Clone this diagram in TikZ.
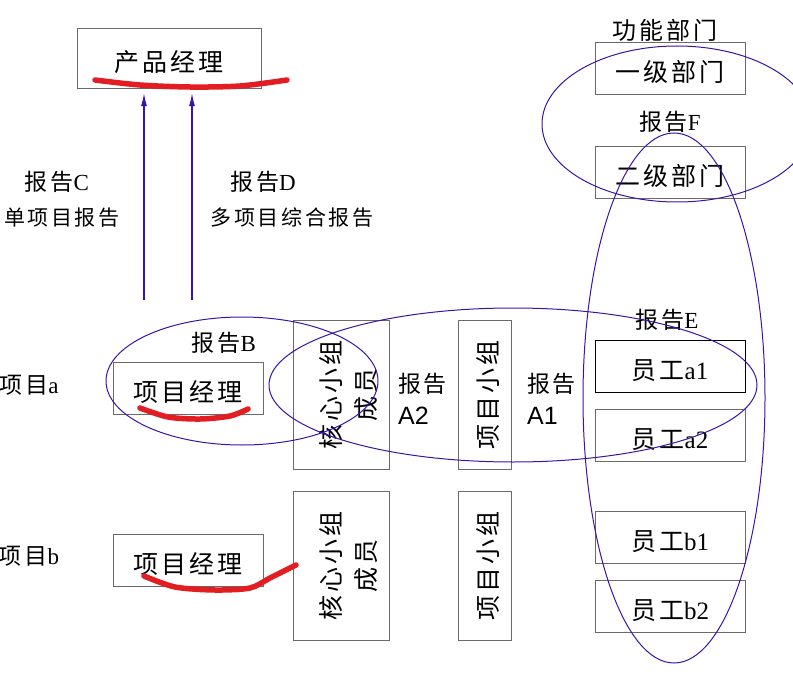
\documentclass[tikz,border=0pt]{standalone}
\usepackage{fontspec}
\setmainfont{Noto Sans CJK SC}[LetterSpace=12]
\newfontfamily\latserif{Liberation Serif}
\newfontfamily\latsans{Liberation Sans}
\usetikzlibrary{arrows.meta,positioning}
\definecolor{rpblue}{HTML}{3A14A8}
\definecolor{rpred}{HTML}{E21E22}
\definecolor{rpgray}{HTML}{6A6A6A}
\newcommand{\rmlat}[1]{{\latserif #1}}

\begin{document}
\begin{tikzpicture}[x=1pt,y=-1pt,
   box/.style={draw=rpgray,minimum width=150pt,minimum height=52pt,
               inner sep=0pt,text height=27pt,text depth=0pt,
               font=\fontsize{25}{30}\selectfont},
   vbox/.style={draw=rpgray,rotate=90,minimum width=149pt,inner sep=0pt,
                align=center,font=\fontsize{25}{35}\selectfont},
   twoline/.style={text height=68pt,text depth=0pt},
   oneline/.style={text height=25pt,text depth=0pt},
   lab/.style={inner sep=0pt,font=\fontsize{23}{32}\selectfont},
   sublab/.style={inner sep=0pt,font=\fontsize{21}{26}\selectfont},
   ar/.style={-{Latex[length=13pt,width=6pt]},rpblue,line width=1.1pt,shorten >=5pt},
   ring/.style={rpblue,line width=1pt},
   redmark/.style={rpred,line width=5.5pt,line cap=round}]
  \useasboundingbox (0,0) rectangle (793,682);
  % top: product manager
  \node[box,minimum width=184pt,minimum height=60pt] (pm) at (169,58) {产品经理};
  \node[lab] (rc) at (57,182) {报告\rmlat{C}};
  \node[sublab] (rcs) at (62,218) {单项目报告};
  \node[lab] (rd) at (263,182) {报告\rmlat{D}};
  \node[sublab] (rds) at (292,218) {多项目综合报告};
  \coordinate (c1) at (144,300);
  \coordinate (c2) at (192,300);
  \draw[ar] (c1) -- (c1 |- pm.south);
  \draw[ar] (c2) -- (c2 |- pm.south);
  % functional departments
  \node[lab,font=\fontsize{24}{30}\selectfont] (fn) at (665,30) {功能部门};
  \node[box] (d1) at (670,68) {一级部门};
  \node[lab] (rf) at (670,122) {报告\rmlat{F}};
  \node[box] (d2) at (670,172) {二级部门};
  % staff
  \node[lab] (re) at (667,320) {报告\rmlat{E}};
  \node[box,draw=black] (sa1) at (670,366) {员工\rmlat{a1}};
  \node[box] (sa2) at (670,435) {员工\rmlat{a2}};
  \node[box] (sb1) at (670,537) {员工\rmlat{b1}};
  \node[box] (sb2) at (670,606) {员工\rmlat{b2}};
  % project a
  \node[lab] (pa) at (29,385) {项目\rmlat{a}};
  \node[box] (pma) at (188,388) {项目经理};
  \node[lab] (rb) at (224,343) {报告\rmlat{B}};
  \node[vbox,twoline,minimum height=96pt] (corea) at (341,394.5) {核心小组\\成员};
  \node[lab,anchor=west,align=left] (ra2) at (398,399) {报告\\{\latsans\fontsize{25}{32}\selectfont A2}};
  \node[vbox,oneline,minimum height=53pt] (teama) at (484.5,394.5) {项目小组};
  \node[lab,anchor=west,align=left] (ra1) at (527,399) {报告\\{\latsans\fontsize{25}{32}\selectfont A1}};
  % project b
  \node[lab] (pb) at (29,556) {项目\rmlat{b}};
  \node[box] (pmb) at (188,560) {项目经理};
  \node[vbox,twoline,minimum height=96pt] (coreb) at (341,565.5) {核心小组\\成员};
  \node[vbox,oneline,minimum height=53pt] (teamb) at (484.5,565.5) {项目小组};
  % report circles
  \draw[ring] (677,124) ellipse [x radius=135, y radius=78];
  \draw[ring] (674,398) ellipse [x radius=91, y radius=265];
  \draw[ring] (242,381) ellipse [x radius=136, y radius=64];
  \draw[ring] (513,385) ellipse [x radius=244, y radius=77];
  % red marks
  \draw[redmark] plot[smooth] coordinates {(95,80) (140,85) (190,87) (240,86) (287,80)};
  \draw[redmark] plot[smooth] coordinates {(140,408) (168,417) (200,419) (230,416) (248,409)};
  \draw[redmark] plot[smooth] coordinates {(144,576) (175,587) (215,590) (250,588) (270,578) (296,565)};
\end{tikzpicture}
\end{document}
